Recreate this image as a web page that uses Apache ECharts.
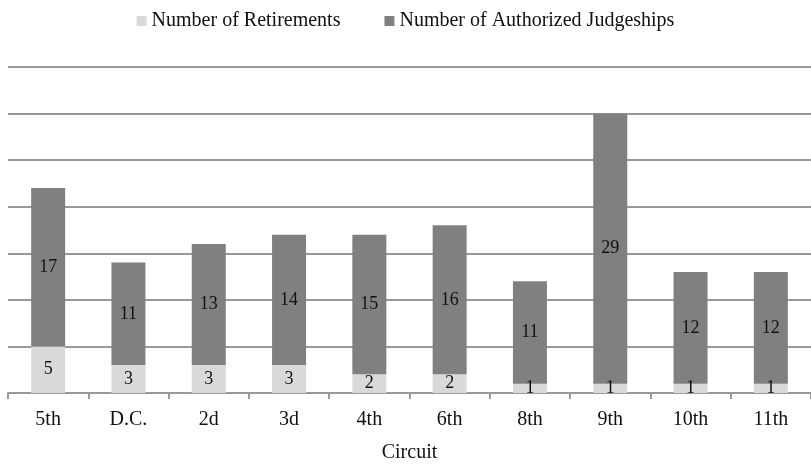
<!DOCTYPE html>
<html>
<head>
<meta charset="utf-8">
<script src="https://cdn.jsdelivr.net/npm/echarts@6/dist/echarts.min.js"></script>
<style>
  html, body { margin: 0; padding: 0; background: #fff; }
  #main { width: 811px; height: 465px; }
</style>
</head>
<body>
<div id="main"></div>
<script>
// circuits and counts
var circuits = ['5th', 'D.C.', '2d', '3d', '4th', '6th', '8th', '9th', '10th', '11th'];
var retirements = [5, 3, 3, 3, 2, 2, 1, 1, 1, 1];
var judgeships = [17, 11, 13, 14, 15, 16, 11, 29, 12, 12];

var serif = '"Liberation Serif", "DejaVu Serif", serif';
var myChart = echarts.init(document.getElementById('main'));

var option = {
    animation: false,
    textStyle: { fontFamily: serif },
    legend: {
        top: 6,
        left: 'center',
        itemWidth: 10,
        itemHeight: 10,
        itemGap: 44,
        icon: 'rect',
        textStyle: { fontFamily: serif, fontSize: 20, color: '#111' },
        data: ['Number of Retirements', 'Number of Authorized Judgeships']
    },
    grid: { left: 8, right: 0, top: 67, bottom: 72, containLabel: false, outerBoundsMode: 'none' },
    xAxis: {
        type: 'category',
        data: circuits,
        name: 'Circuit',
        nameLocation: 'middle',
        nameGap: 50,
        nameTextStyle: { fontFamily: serif, fontSize: 20, color: '#111' },
        axisLine: { lineStyle: { color: '#999', width: 2 } },
        axisTick: { show: true, length: 6, lineStyle: { color: '#999', width: 2 } },
        axisLabel: { fontFamily: serif, fontSize: 20, color: '#111', margin: 17 }
    },
    yAxis: {
        type: 'value',
        min: 0,
        max: 35,
        interval: 5,
        axisLabel: { show: false },
        axisLine: { show: false },
        axisTick: { show: false },
        splitLine: { lineStyle: { color: '#999', width: 2 } }
    },
    series: [
        {
            name: 'Number of Retirements',
            type: 'bar',
            stack: 'total',
            barWidth: 34,
            itemStyle: { color: '#d9d9d9' },
            label: { show: true, position: 'inside', fontFamily: serif, fontSize: 18, color: '#111' },
            data: retirements
        },
        {
            name: 'Number of Authorized Judgeships',
            type: 'bar',
            stack: 'total',
            barWidth: 34,
            itemStyle: { color: '#808080' },
            label: { show: true, position: 'inside', fontFamily: serif, fontSize: 18, color: '#111' },
            data: judgeships
        }
    ]
};

myChart.setOption(option);
</script>
</body>
</html>
